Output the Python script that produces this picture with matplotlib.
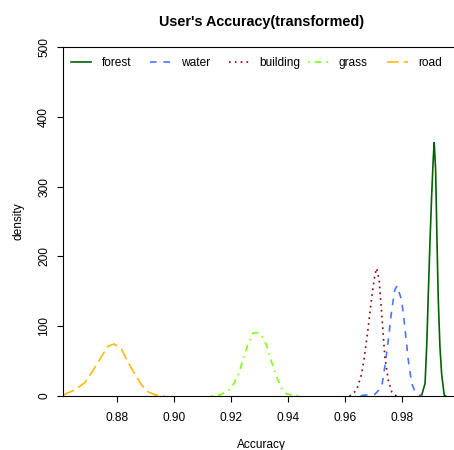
import matplotlib
matplotlib.use("Agg")
import matplotlib.pyplot as plt
from matplotlib.legend import Legend

plt.rcParams["font.family"] = ["Liberation Sans", "DejaVu Sans"]

# density curves (x = accuracy, y = density)
forest_x = [0.9862, 0.9868, 0.9880, 0.9886, 0.9891, 0.9897, 0.9903, 0.9909, 0.9912,
            0.9917, 0.9921, 0.9926, 0.9932, 0.9938, 0.9947, 0.9952]
forest_y = [0, 1, 18, 75, 142, 219, 286, 343, 363, 324, 238, 142, 71, 32, 1.5, 0]

water_x = [0.9655, 0.9663, 0.9704, 0.9728, 0.9739, 0.9751, 0.9763, 0.9774, 0.9782,
           0.9798, 0.9809, 0.9821, 0.9833, 0.9845, 0.9862, 0.9870]
water_y = [0, 1, 2.4, 13, 42, 80, 123, 152, 158, 137, 99, 52, 18, 6, 1.4, 0]

building_x = [0.9615, 0.9622, 0.9640, 0.9658, 0.9669, 0.9681, 0.9693, 0.9704, 0.9710,
              0.9719, 0.9728, 0.9739, 0.9751, 0.9763, 0.9774, 0.9780]
building_y = [0, 1.4, 8.6, 32, 61, 99, 142, 173, 183, 166, 118, 56, 23, 6, 1.4, 0]

grass_x = [0.9131, 0.9160, 0.9178, 0.9201, 0.9225, 0.9242, 0.9260, 0.9277, 0.9289,
           0.9307, 0.9324, 0.9342, 0.9359, 0.9377, 0.9394, 0.9420, 0.9441]
grass_y = [0, 1.5, 4.7, 11, 30, 52, 75, 90, 91, 87, 73, 49, 28, 11, 3, 1, 0.4]

road_x = [0.8613, 0.8614, 0.8652, 0.8687, 0.8717, 0.8745, 0.8768, 0.8790, 0.8815,
          0.8838, 0.8862, 0.8886, 0.8909, 0.8935, 0.8967]
road_y = [1, 2, 8.6, 19, 37, 56, 71, 74.5, 68, 49, 32, 16, 6, 1.5, 0]

labels = ["forest", "water", "building", "grass", "road"]
colors = ["#006400", "#4876FF", "#8B0000", "#7FFF00", "#FFB90F"]
dashes = [None, (4, 4), (1, 2.5), (1, 3, 4, 3), (7, 3)]

x_ticks = [0.88, 0.90, 0.92, 0.94, 0.96, 0.98]
y_ticks = [0, 100, 200, 300, 400, 500]

fig = plt.figure(figsize=(4.54, 4.5), dpi=100)
ax = fig.add_axes([0.1388, 0.12, 0.8729, 0.7756])

series = [(forest_x, forest_y), (water_x, water_y), (building_x, building_y),
          (grass_x, grass_y), (road_x, road_y)]
handles = []
for (xs, ys), lab, col, dash in zip(series, labels, colors, dashes):
    line, = ax.plot(xs, ys, color=col, lw=1.2, label=lab)
    if dash is not None:
        line.set_dashes(dash)
    handles.append(line)

ax.set_xlim(0.8611, 1.0)
ax.set_ylim(0, 500)
ax.set_xticks(x_ticks)
ax.set_xticklabels([f"{t:.2f}" for t in x_ticks])
ax.set_yticks(y_ticks)
ax.set_yticklabels([str(t) for t in y_ticks], rotation=90, va="center")
ax.tick_params(axis="both", direction="out", length=4.3, width=0.8, labelsize=8.6)
ax.tick_params(axis="x", pad=7)
ax.tick_params(axis="y", pad=5)
for s in ax.spines.values():
    s.set_linewidth(0.8)

ax.set_xlabel("Accuracy", fontsize=8.6, labelpad=11)
ax.set_ylabel("density", fontsize=8.6, labelpad=10)
ax.set_title("User's Accuracy(transformed)", fontsize=10.4, fontweight="bold", pad=15)

# horizontal legend with equal-width columns, like R's legend(horiz=TRUE)
col_w = 79 / 396
for i, (h, lab) in enumerate(zip(handles, labels)):
    leg = Legend(ax, [h], [lab], loc="upper left",
                 bbox_to_anchor=(-0.005 + i * col_w, 1.0),
                 frameon=False, fontsize=8.6, handlelength=1.7, handletextpad=0.85,
                 borderaxespad=0.45, borderpad=0.4)
    ax.add_artist(leg)

fig.savefig("out.png", dpi=100)
